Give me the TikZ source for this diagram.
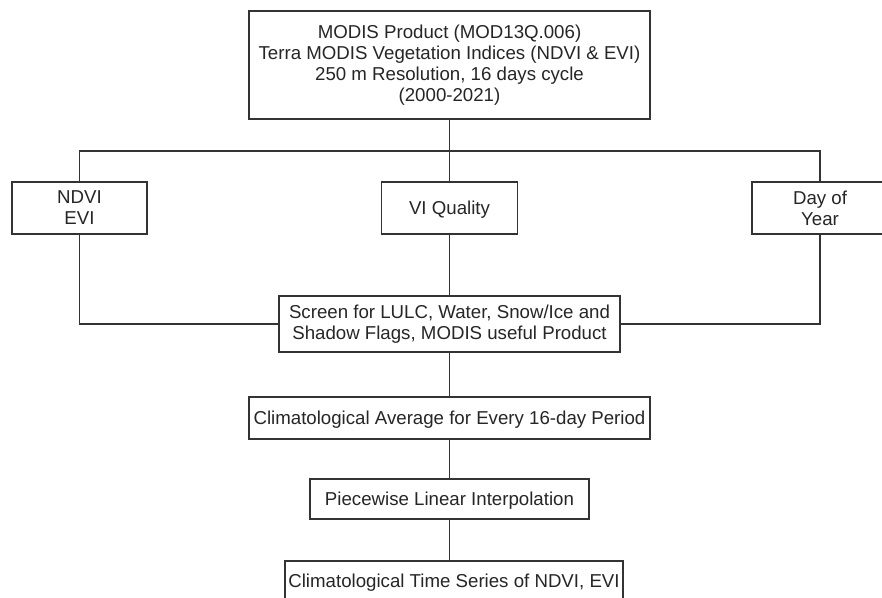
\documentclass[tikz,border=0pt]{standalone}
\usepackage{fontspec}
\setmainfont{Liberation Sans}
\begin{document}
\begin{tikzpicture}[x=0.75pt,y=-0.75pt,
  line/.style={draw=black!80,line width=0.8pt},
  box/.style={line, fill=white, inner sep=0pt, outer sep=0pt, align=center,
    text=black!85, font=\fontsize{14}{15.75}\selectfont},
  oneline/.style={text height=10pt, text depth=0pt},
  size/.style 2 args={minimum width={#1*0.75pt}, minimum height={#2*0.75pt}},
]
\useasboundingbox (0,0) rectangle (882,597);

% boxes
\node[box, size={401}{108}] (src) at (449.5,65)
  {MODIS Product (MOD13Q.006)\\Terra MODIS Vegetation Indices (NDVI \& EVI)\\250 m Resolution, 16 days cycle\\(2000-2021)};
\node[box, size={135}{52}] (ndvi) at (79.5,208) {NDVI\\EVI};
\node[box, oneline, size={136}{52}] (viq) at (449.5,208) {VI Quality};
\node[box, size={136}{52}] (doy) at (820,208) {Day of\\Year};
\node[box, size={341}{56}] (screen) at (449.5,324)
  {Screen for LULC, Water, Snow/Ice and\\Shadow Flags, MODIS useful Product};
\node[box, oneline, size={401}{42}] (clim) at (449.5,418)
  {Climatological Average for Every 16-day Period};
\node[box, oneline, size={279}{40}] (piece) at (449.5,499)
  {Piecewise Linear Interpolation};
\node[box, oneline, size={338}{40}] (final) at (454,581)
  {Climatological Time Series of NDVI, EVI};

% distribution bus
\coordinate (bus) at (449.5,151);
\coordinate (busL) at (ndvi.north |- bus);
\coordinate (busR) at (doy.north |- bus);

\draw[line] (src.south) -- (bus);
\draw[line] (ndvi.north) -- (busL) -- (busR) -- (doy.north);
\draw[line] (viq.north) -- (viq.north |- bus);
\draw[line] (ndvi.south) |- (screen.west);
\draw[line] (doy.south) |- (screen.east);
\draw[line] (viq.south) -- (screen.north);
\draw[line] (screen.south) -- (clim.north);
\draw[line] (clim.south) -- (piece.north);
\draw[line] (piece.south) -- (piece.south |- final.north);
\end{tikzpicture}
\end{document}
